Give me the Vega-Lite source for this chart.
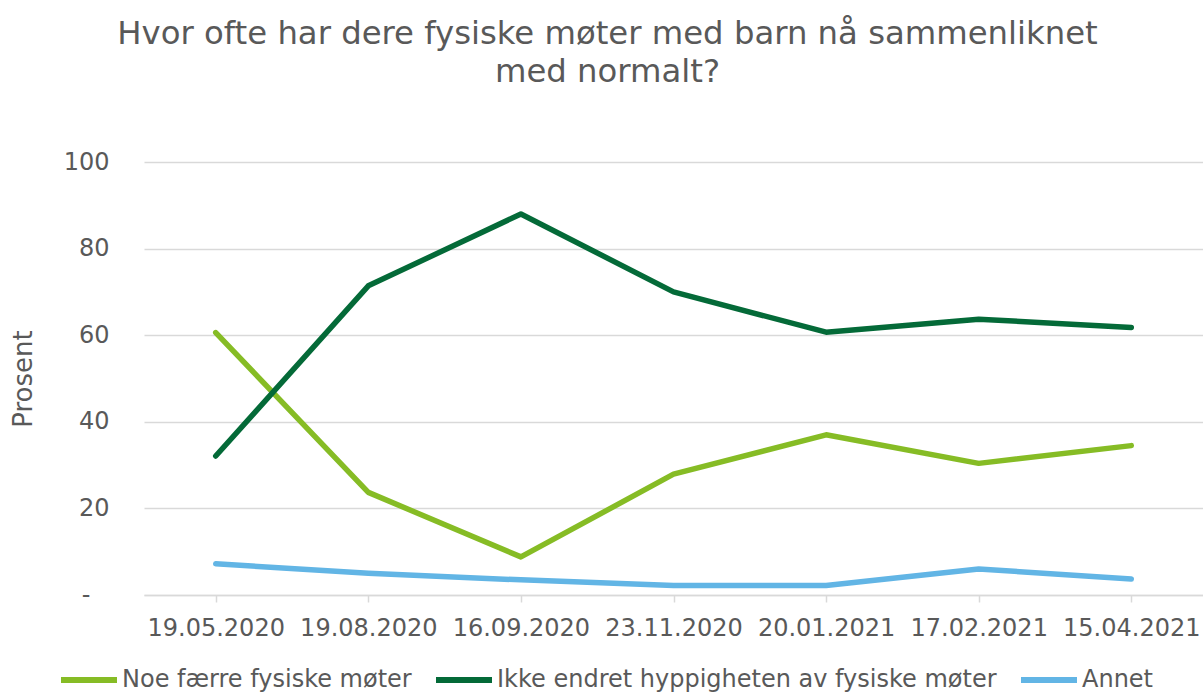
{
  "$schema": "https://vega.github.io/schema/vega-lite/v6.json",
  "width": 1059,
  "height": 433,
  "autosize": "none",
  "padding": {"left": 144, "top": 162, "right": 0, "bottom": 98},
  "background": "white",
  "config": {
    "view": {"stroke": null},
    "font": "DejaVu Sans"
  },
  "title": {
    "text": ["Hvor ofte har dere fysiske møter med barn nå sammenliknet", "med normalt?"],
    "font": "DejaVu Sans",
    "fontSize": 32.3,
    "fontWeight": "normal",
    "color": "#595959",
    "anchor": "middle",
    "frame": "group",
    "dx": -66,
    "offset": 62,
    "lineHeight": 38
  },
  "data": {
    "values": [
      {"dato": "19.05.2020", "serie": "Noe færre fysiske møter", "prosent": 60.6},
      {"dato": "19.08.2020", "serie": "Noe færre fysiske møter", "prosent": 23.7},
      {"dato": "16.09.2020", "serie": "Noe færre fysiske møter", "prosent": 8.8},
      {"dato": "23.11.2020", "serie": "Noe færre fysiske møter", "prosent": 27.9},
      {"dato": "20.01.2021", "serie": "Noe færre fysiske møter", "prosent": 37.0},
      {"dato": "17.02.2021", "serie": "Noe færre fysiske møter", "prosent": 30.4},
      {"dato": "15.04.2021", "serie": "Noe færre fysiske møter", "prosent": 34.5},
      {"dato": "19.05.2020", "serie": "Ikke endret hyppigheten av fysiske møter", "prosent": 32.1},
      {"dato": "19.08.2020", "serie": "Ikke endret hyppigheten av fysiske møter", "prosent": 71.4},
      {"dato": "16.09.2020", "serie": "Ikke endret hyppigheten av fysiske møter", "prosent": 88.0},
      {"dato": "23.11.2020", "serie": "Ikke endret hyppigheten av fysiske møter", "prosent": 70.0},
      {"dato": "20.01.2021", "serie": "Ikke endret hyppigheten av fysiske møter", "prosent": 60.7},
      {"dato": "17.02.2021", "serie": "Ikke endret hyppigheten av fysiske møter", "prosent": 63.7},
      {"dato": "15.04.2021", "serie": "Ikke endret hyppigheten av fysiske møter", "prosent": 61.8},
      {"dato": "19.05.2020", "serie": "Annet", "prosent": 7.2},
      {"dato": "19.08.2020", "serie": "Annet", "prosent": 5.0},
      {"dato": "16.09.2020", "serie": "Annet", "prosent": 3.5},
      {"dato": "23.11.2020", "serie": "Annet", "prosent": 2.2},
      {"dato": "20.01.2021", "serie": "Annet", "prosent": 2.2},
      {"dato": "17.02.2021", "serie": "Annet", "prosent": 6.0},
      {"dato": "15.04.2021", "serie": "Annet", "prosent": 3.7}
    ]
  },
  "mark": {"type": "line", "strokeWidth": 5.5, "strokeCap": "round", "strokeJoin": "round"},
  "encoding": {
    "x": {
      "field": "dato",
      "type": "ordinal",
      "sort": ["19.05.2020", "19.08.2020", "16.09.2020", "23.11.2020", "20.01.2021", "17.02.2021", "15.04.2021"],
      "scale": {"type": "point", "padding": 0.47},
      "axis": {
        "title": null,
        "labelAngle": 0,
        "labelFont": "DejaVu Sans",
        "labelFontSize": 24,
        "labelColor": "#595959",
        "labelPadding": 14,
        "domainColor": "#D9D9D9",
        "domainWidth": 1.5,
        "tickColor": "#D9D9D9",
        "tickWidth": 1.5,
        "tickSize": 7,
        "grid": false
      }
    },
    "y": {
      "field": "prosent",
      "type": "quantitative",
      "scale": {"domain": [0, 100]},
      "axis": {
        "title": "Prosent",
        "titleFont": "DejaVu Sans",
        "titleFontSize": 26,
        "titleFontWeight": "normal",
        "titleColor": "#595959",
        "titlePadding": 27,
        "values": [0, 20, 40, 60, 80, 100],
        "labelExpr": "datum.value == 0 ? '-' : datum.label",
        "labelFont": "DejaVu Sans",
        "labelFontSize": 24,
        "labelColor": "#595959",
        "labelPadding": {"condition": {"test": "datum.value == 0", "value": 54}, "value": 35},
        "ticks": false,
        "domain": false,
        "grid": true,
        "gridColor": "#D9D9D9",
        "gridWidth": 1.5
      }
    },
    "color": {
      "field": "serie",
      "type": "nominal",
      "scale": {
        "domain": ["Noe færre fysiske møter", "Ikke endret hyppigheten av fysiske møter", "Annet"],
        "range": ["#86BC25", "#046A38", "#62B5E5"]
      },
      "legend": {
        "title": null,
        "orient": "none",
        "direction": "horizontal",
        "legendX": -86,
        "legendY": 487,
        "symbolType": "stroke",
        "symbolSize": 3136,
        "symbolStrokeWidth": 6,
        "labelOffset": 2,
        "columnPadding": 12,
        "labelFont": "DejaVu Sans",
        "labelFontSize": 24,
        "labelColor": "#595959",
        "labelLimit": 800
      }
    }
  }
}
